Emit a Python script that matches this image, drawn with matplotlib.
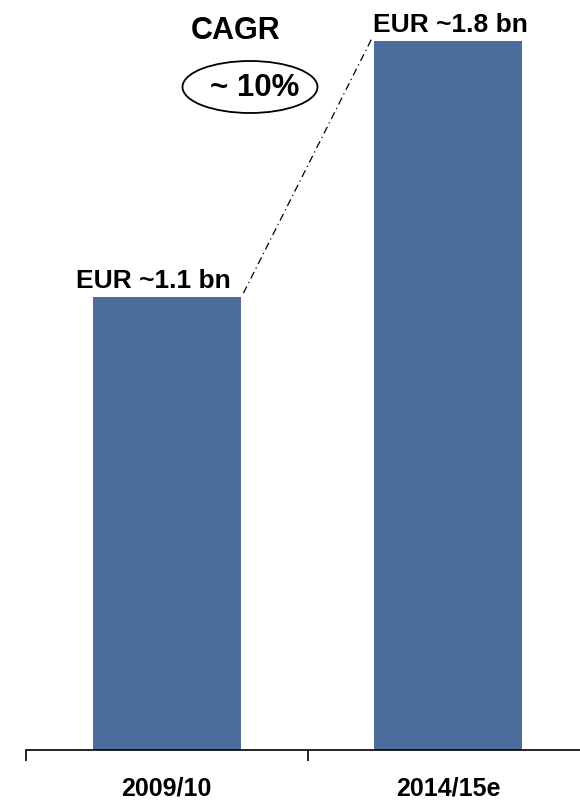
import matplotlib.pyplot as plt
from matplotlib.patches import Ellipse

plt.rcParams['font.family'] = ['Liberation Sans', 'DejaVu Sans']

categories = ['2009/10', '2014/15e']
values = [1.15, 1.8]
value_labels = ['EUR ~1.1 bn', 'EUR ~1.8 bn']
cagr_label = '~ 10%'

bar_color = '#4C6C9B'
w = 0.525

fig = plt.figure(figsize=(5.8, 8.02), dpi=100)
ax = fig.add_axes([26 / 580, 52 / 802, 1 - 26 / 580, 750 / 802])

x = list(range(len(categories)))
ax.bar(x, values, width=w, color=bar_color)

offsets = [-0.049, 0.008]
for xi, v, lab, off in zip(x, values, value_labels, offsets):
    ax.text(xi + off, v + 0.024, lab, ha='center', va='baseline',
            fontsize=19, fontweight='bold')

# CAGR connector
ax.plot([x[0] + w / 2 + 0.01, x[1] - w / 2 - 0.01], [values[0] + 0.01, values[1] + 0.005],
        color='black', lw=0.9, linestyle=(0, (6, 3, 1, 3)))

fig.text(236 / 580, 1 - 31 / 802, 'CAGR', ha='center', va='center',
         fontsize=22, fontweight='bold')
fig.text(255 / 580, 1 - 88 / 802, cagr_label, ha='center', va='center',
         fontsize=22.5, fontweight='bold')
fig.add_artist(Ellipse((250 / 580, 1 - 87 / 802), 135 / 580, 52 / 802,
                       transform=fig.transFigure, fill=False, ec='black', lw=1.3))

for s in ['top', 'right', 'left']:
    ax.spines[s].set_visible(False)
ax.spines['bottom'].set_linewidth(1.2)
ax.set_yticks([])
ax.set_xticks([-0.5, 0.5])
ax.set_xticklabels([])
ax.tick_params(axis='x', direction='out', length=8, width=1.2)
ax.set_xticks(x, minor=True)
ax.set_xticklabels(categories, minor=True, fontsize=18, fontweight='bold')
ax.tick_params(axis='x', which='minor', length=0, pad=19)

# limits last, set_xticks can widen them
ax.set_xlim(-0.5, 1.468)
ax.set_ylim(0, 1.8 * 750 / 709)

fig.savefig('out.png', dpi=100)
